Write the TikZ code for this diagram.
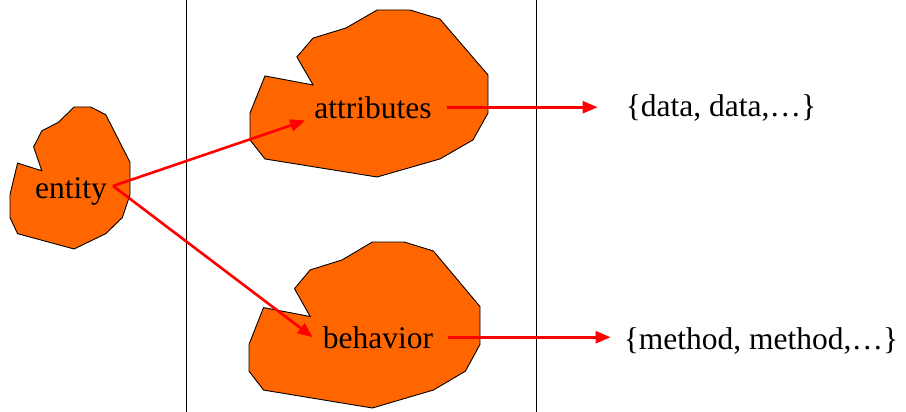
\documentclass[tikz,border=0pt]{standalone}
\usepackage{fontspec}
\setmainfont{Liberation Serif}
\usetikzlibrary{arrows.meta,positioning}
\definecolor{blobfill}{HTML}{FF6600}

\begin{document}
\begin{tikzpicture}[x=1pt, y=-1pt,
    blob/.pic={\draw[fill=blobfill, line width=0.9pt]
      (0.534,0) -- (0.672,0) -- (0.798,0.054) -- (1,0.389) -- (1,0.617)
      -- (0.937,0.778) -- (0.798,0.892) -- (0.534,1) -- (0.063,0.892)
      -- (0,0.778) -- (0,0.617) -- (0.063,0.395) -- (0.265,0.449)
      -- (0.197,0.281) -- (0.265,0.168) -- (0.403,0.108) -- cycle;},
    lbl/.style={anchor=base, inner sep=2pt, font=\fontsize{31.5}{36}\selectfont},
    arr/.style={-{Triangle[length=15pt,width=12pt]}, red, line width=2.6pt}
  ]
    \useasboundingbox (0,0) rectangle (906,412);

    % Column separators
    \draw[line width=1pt] (186,0) -- (186,412);
    \draw[line width=1pt] (536,0) -- (536,412);

    % Blobs
    \pic[xscale=120, yscale=142] at (10,107) {blob};
    \pic[xscale=238, yscale=167] at (250,10) {blob};
    \pic[xscale=231, yscale=166] at (249,242) {blob};

    % Labels
    \node[lbl] (entity) at (71,198)  {entity};
    \node[lbl] (attr)   at (373,118) {attributes};
    \node[lbl] (behav)  at (378,348) {behavior};
    \node[lbl] (data)   at (721,117) {\{data, data,\dots\}};
    \node[lbl] (method) at (761,349) {\{method, method,\dots\}};

    % Entity → attributes / behavior
    \draw[arr] ([xshift=4pt,yshift=5pt]entity.east) -- ([xshift=-7pt]attr.south west);
    \draw[arr] ([xshift=4pt,yshift=5pt]entity.east) -- ([xshift=-8pt]behav.west);

    % Attributes → data, behavior → methods
    \draw[arr] ([xshift=13pt]attr.east) -- ([xshift=-26pt]attr.east -| data.west);
    \draw[arr] ([xshift=13pt]behav.east) -- ([xshift=-11pt]behav.east -| method.west);
\end{tikzpicture}
\end{document}
